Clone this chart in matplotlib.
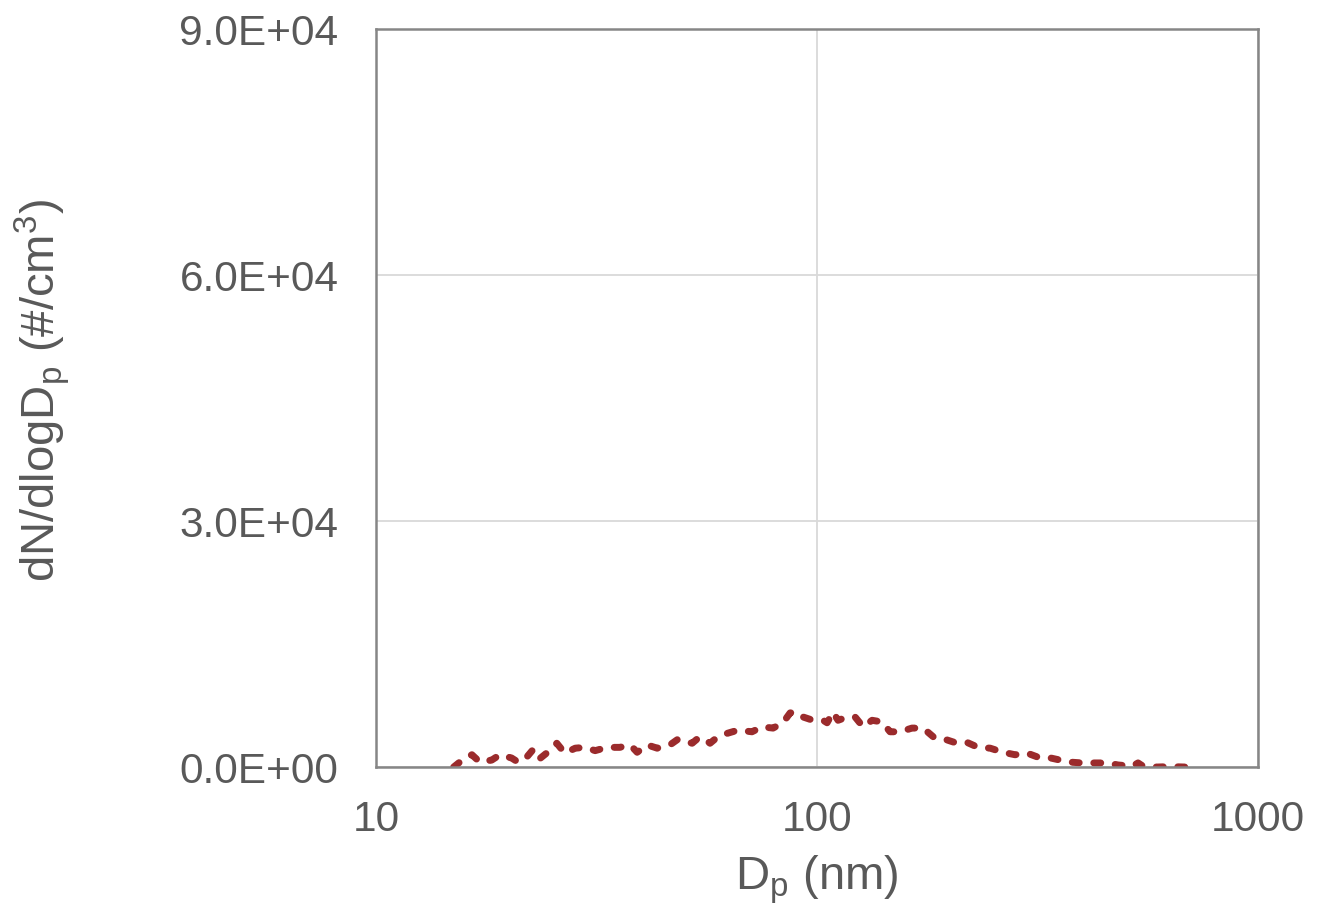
import matplotlib
matplotlib.use("Agg")
import matplotlib.pyplot as plt
from matplotlib.ticker import FixedLocator, FuncFormatter

plt.rcParams['font.family'] = ['Liberation Sans', 'DejaVu Sans']
plt.rcParams['mathtext.fontset'] = 'custom'
plt.rcParams['mathtext.rm'] = 'Liberation Sans'
plt.rcParams['mathtext.it'] = 'Liberation Sans'

# particle diameter (nm) and number size distribution dN/dlogDp (#/cm3)
diameter = [15.0, 15.9, 16.5, 17.2, 18.3, 19.1, 20.3, 21.0, 21.8, 22.6,
            23.3, 24.5, 25.7, 26.8, 28.3, 29.8, 31.4, 33.4, 35.7, 37.7,
            39.1, 41.2, 43.4, 46.4, 48.4, 52.1, 53.7, 55.1, 57.2, 59.3,
            62.5, 66.2, 71.2, 75.1, 79.5, 83.7, 86.9, 90.1, 93.0, 97.9,
            103.2, 105.4, 108.7, 111.6, 117.0, 122.0, 127.2, 133.3, 140.4, 146.4,
            154.3, 164.2, 174.0, 185.2, 197.2, 207.8, 218.9, 231.8, 246.9, 264.2,
            281.2, 299.4, 317.1, 332.3, 355.6, 374.7, 399.0, 426.9, 454.5, 481.6,
            518.0, 534.5, 548.6, 590.2, 631.8, 683.2]
dndlogdp = [0, 1100, 1500, 600, 850, 1500, 1100, 600, 1000, 2000,
            850, 1800, 2900, 1700, 2300, 2400, 2000, 2400, 2400, 2700,
            1800, 2700, 2300, 2700, 3400, 2900, 3500, 3600, 2900, 3600,
            4100, 4500, 4300, 4900, 4750, 5400, 6600, 6700, 6100, 5700,
            5700, 5400, 6700, 5700, 6100, 6100, 4900, 5700, 5500, 4300,
            4300, 4750, 4750, 3500, 3300, 2900, 3000, 2400, 2300, 1800,
            1500, 1700, 1200, 1200, 850, 600, 500, 500, 500, 250,
            100, 500, 100, 0, 50, 0]

x_ticks = [10, 100, 1000]
y_ticks = [0, 30000, 60000, 90000]

text_color = '#595959'
spine_color = '#868686'
grid_color = '#D9D9D9'

fig = plt.figure(figsize=(13.3, 9.1), dpi=100)
ax = fig.add_axes([0.2827, 0.1571, 0.6632, 0.8110])

ax.plot(diameter, dndlogdp, color='#9B2B2C', linewidth=5,
        linestyle=(0, (1.0, 2.1)), dash_capstyle='round', solid_capstyle='round')

ax.set_xscale('log')
ax.set_xlim(10, 1000)
ax.set_ylim(0, 90000)
ax.xaxis.set_major_locator(FixedLocator(x_ticks))
ax.xaxis.set_minor_locator(FixedLocator([]))
ax.xaxis.set_major_formatter(FuncFormatter(lambda v, p: f'{v:g}'))
ax.yaxis.set_major_locator(FixedLocator(y_ticks))
ax.yaxis.set_major_formatter(FuncFormatter(lambda v, p: f'{v:.1E}'))

ax.grid(True, color=grid_color, linewidth=1.3)
ax.set_axisbelow(True)
for s in ax.spines.values():
    s.set_color(spine_color)
    s.set_linewidth(1.8)

ax.tick_params(axis='both', length=0, labelsize=30.5, colors=text_color)
ax.tick_params(axis='y', pad=27)
ax.tick_params(axis='x', pad=24)

ax.set_xlabel(r'$\mathregular{D_p}$ (nm)', fontsize=34, color=text_color)
ax.set_ylabel(r'dN/dlog$\mathregular{D_p}$ (#/cm$\mathregular{^3}$)', fontsize=34,
              color=text_color)
ax.xaxis.set_label_coords(0.5, -0.117)
ax.yaxis.set_label_coords(-0.345, 0.51)

fig.savefig('out.png', dpi=100)
